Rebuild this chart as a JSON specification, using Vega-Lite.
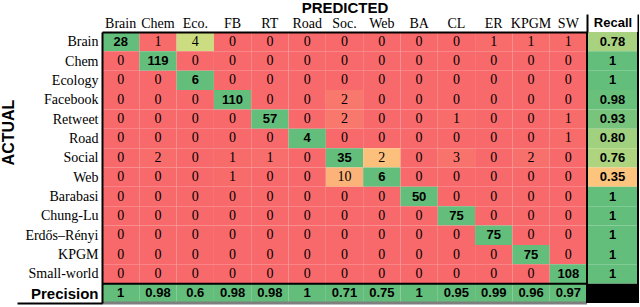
{
"$schema":"https://vega.github.io/schema/vega-lite/v6.json",
"background":"white",
"padding":0,
"autosize":{"type":"pad"},
"spacing":0,
"bounds":"flush",
"config":{"view":{"stroke":null},"text":{"color":"black"}},
"datasets":{
"cells":[
{"a":"Brain","p":"Brain","v":28},{"a":"Brain","p":"Chem","v":1},{"a":"Brain","p":"Eco.","v":4},{"a":"Brain","p":"FB","v":0},{"a":"Brain","p":"RT","v":0},{"a":"Brain","p":"Road","v":0},{"a":"Brain","p":"Soc.","v":0},{"a":"Brain","p":"Web","v":0},{"a":"Brain","p":"BA","v":0},{"a":"Brain","p":"CL","v":0},{"a":"Brain","p":"ER","v":1},{"a":"Brain","p":"KPGM","v":1},{"a":"Brain","p":"SW","v":1},
{"a":"Chem","p":"Brain","v":0},{"a":"Chem","p":"Chem","v":119},{"a":"Chem","p":"Eco.","v":0},{"a":"Chem","p":"FB","v":0},{"a":"Chem","p":"RT","v":0},{"a":"Chem","p":"Road","v":0},{"a":"Chem","p":"Soc.","v":0},{"a":"Chem","p":"Web","v":0},{"a":"Chem","p":"BA","v":0},{"a":"Chem","p":"CL","v":0},{"a":"Chem","p":"ER","v":0},{"a":"Chem","p":"KPGM","v":0},{"a":"Chem","p":"SW","v":0},
{"a":"Ecology","p":"Brain","v":0},{"a":"Ecology","p":"Chem","v":0},{"a":"Ecology","p":"Eco.","v":6},{"a":"Ecology","p":"FB","v":0},{"a":"Ecology","p":"RT","v":0},{"a":"Ecology","p":"Road","v":0},{"a":"Ecology","p":"Soc.","v":0},{"a":"Ecology","p":"Web","v":0},{"a":"Ecology","p":"BA","v":0},{"a":"Ecology","p":"CL","v":0},{"a":"Ecology","p":"ER","v":0},{"a":"Ecology","p":"KPGM","v":0},{"a":"Ecology","p":"SW","v":0},
{"a":"Facebook","p":"Brain","v":0},{"a":"Facebook","p":"Chem","v":0},{"a":"Facebook","p":"Eco.","v":0},{"a":"Facebook","p":"FB","v":110},{"a":"Facebook","p":"RT","v":0},{"a":"Facebook","p":"Road","v":0},{"a":"Facebook","p":"Soc.","v":2},{"a":"Facebook","p":"Web","v":0},{"a":"Facebook","p":"BA","v":0},{"a":"Facebook","p":"CL","v":0},{"a":"Facebook","p":"ER","v":0},{"a":"Facebook","p":"KPGM","v":0},{"a":"Facebook","p":"SW","v":0},
{"a":"Retweet","p":"Brain","v":0},{"a":"Retweet","p":"Chem","v":0},{"a":"Retweet","p":"Eco.","v":0},{"a":"Retweet","p":"FB","v":0},{"a":"Retweet","p":"RT","v":57},{"a":"Retweet","p":"Road","v":0},{"a":"Retweet","p":"Soc.","v":2},{"a":"Retweet","p":"Web","v":0},{"a":"Retweet","p":"BA","v":0},{"a":"Retweet","p":"CL","v":1},{"a":"Retweet","p":"ER","v":0},{"a":"Retweet","p":"KPGM","v":0},{"a":"Retweet","p":"SW","v":1},
{"a":"Road","p":"Brain","v":0},{"a":"Road","p":"Chem","v":0},{"a":"Road","p":"Eco.","v":0},{"a":"Road","p":"FB","v":0},{"a":"Road","p":"RT","v":0},{"a":"Road","p":"Road","v":4},{"a":"Road","p":"Soc.","v":0},{"a":"Road","p":"Web","v":0},{"a":"Road","p":"BA","v":0},{"a":"Road","p":"CL","v":0},{"a":"Road","p":"ER","v":0},{"a":"Road","p":"KPGM","v":0},{"a":"Road","p":"SW","v":1},
{"a":"Social","p":"Brain","v":0},{"a":"Social","p":"Chem","v":2},{"a":"Social","p":"Eco.","v":0},{"a":"Social","p":"FB","v":1},{"a":"Social","p":"RT","v":1},{"a":"Social","p":"Road","v":0},{"a":"Social","p":"Soc.","v":35},{"a":"Social","p":"Web","v":2},{"a":"Social","p":"BA","v":0},{"a":"Social","p":"CL","v":3},{"a":"Social","p":"ER","v":0},{"a":"Social","p":"KPGM","v":2},{"a":"Social","p":"SW","v":0},
{"a":"Web","p":"Brain","v":0},{"a":"Web","p":"Chem","v":0},{"a":"Web","p":"Eco.","v":0},{"a":"Web","p":"FB","v":1},{"a":"Web","p":"RT","v":0},{"a":"Web","p":"Road","v":0},{"a":"Web","p":"Soc.","v":10},{"a":"Web","p":"Web","v":6},{"a":"Web","p":"BA","v":0},{"a":"Web","p":"CL","v":0},{"a":"Web","p":"ER","v":0},{"a":"Web","p":"KPGM","v":0},{"a":"Web","p":"SW","v":0},
{"a":"Barabasi","p":"Brain","v":0},{"a":"Barabasi","p":"Chem","v":0},{"a":"Barabasi","p":"Eco.","v":0},{"a":"Barabasi","p":"FB","v":0},{"a":"Barabasi","p":"RT","v":0},{"a":"Barabasi","p":"Road","v":0},{"a":"Barabasi","p":"Soc.","v":0},{"a":"Barabasi","p":"Web","v":0},{"a":"Barabasi","p":"BA","v":50},{"a":"Barabasi","p":"CL","v":0},{"a":"Barabasi","p":"ER","v":0},{"a":"Barabasi","p":"KPGM","v":0},{"a":"Barabasi","p":"SW","v":0},
{"a":"Chung-Lu","p":"Brain","v":0},{"a":"Chung-Lu","p":"Chem","v":0},{"a":"Chung-Lu","p":"Eco.","v":0},{"a":"Chung-Lu","p":"FB","v":0},{"a":"Chung-Lu","p":"RT","v":0},{"a":"Chung-Lu","p":"Road","v":0},{"a":"Chung-Lu","p":"Soc.","v":0},{"a":"Chung-Lu","p":"Web","v":0},{"a":"Chung-Lu","p":"BA","v":0},{"a":"Chung-Lu","p":"CL","v":75},{"a":"Chung-Lu","p":"ER","v":0},{"a":"Chung-Lu","p":"KPGM","v":0},{"a":"Chung-Lu","p":"SW","v":0},
{"a":"Erdős–Rényi","p":"Brain","v":0},{"a":"Erdős–Rényi","p":"Chem","v":0},{"a":"Erdős–Rényi","p":"Eco.","v":0},{"a":"Erdős–Rényi","p":"FB","v":0},{"a":"Erdős–Rényi","p":"RT","v":0},{"a":"Erdős–Rényi","p":"Road","v":0},{"a":"Erdős–Rényi","p":"Soc.","v":0},{"a":"Erdős–Rényi","p":"Web","v":0},{"a":"Erdős–Rényi","p":"BA","v":0},{"a":"Erdős–Rényi","p":"CL","v":0},{"a":"Erdős–Rényi","p":"ER","v":75},{"a":"Erdős–Rényi","p":"KPGM","v":0},{"a":"Erdős–Rényi","p":"SW","v":0},
{"a":"KPGM","p":"Brain","v":0},{"a":"KPGM","p":"Chem","v":0},{"a":"KPGM","p":"Eco.","v":0},{"a":"KPGM","p":"FB","v":0},{"a":"KPGM","p":"RT","v":0},{"a":"KPGM","p":"Road","v":0},{"a":"KPGM","p":"Soc.","v":0},{"a":"KPGM","p":"Web","v":0},{"a":"KPGM","p":"BA","v":0},{"a":"KPGM","p":"CL","v":0},{"a":"KPGM","p":"ER","v":0},{"a":"KPGM","p":"KPGM","v":75},{"a":"KPGM","p":"SW","v":0},
{"a":"Small-world","p":"Brain","v":0},{"a":"Small-world","p":"Chem","v":0},{"a":"Small-world","p":"Eco.","v":0},{"a":"Small-world","p":"FB","v":0},{"a":"Small-world","p":"RT","v":0},{"a":"Small-world","p":"Road","v":0},{"a":"Small-world","p":"Soc.","v":0},{"a":"Small-world","p":"Web","v":0},{"a":"Small-world","p":"BA","v":0},{"a":"Small-world","p":"CL","v":0},{"a":"Small-world","p":"ER","v":0},{"a":"Small-world","p":"KPGM","v":0},{"a":"Small-world","p":"SW","v":108}
],
"recall":[
{"a":"Brain","r":0.78,"t":"0.78"},{"a":"Chem","r":1,"t":"1"},{"a":"Ecology","r":1,"t":"1"},{"a":"Facebook","r":0.98,"t":"0.98"},{"a":"Retweet","r":0.93,"t":"0.93"},{"a":"Road","r":0.8,"t":"0.80"},{"a":"Social","r":0.76,"t":"0.76"},{"a":"Web","r":0.35,"t":"0.35"},{"a":"Barabasi","r":1,"t":"1"},{"a":"Chung-Lu","r":1,"t":"1"},{"a":"Erdős–Rényi","r":1,"t":"1"},{"a":"KPGM","r":1,"t":"1"},{"a":"Small-world","r":1,"t":"1"}
],
"prec":[
{"p":"Brain","t":"1"},{"p":"Chem","t":"0.98"},{"p":"Eco.","t":"0.6"},{"p":"FB","t":"0.98"},{"p":"RT","t":"0.98"},{"p":"Road","t":"1"},{"p":"Soc.","t":"0.71"},{"p":"Web","t":"0.75"},{"p":"BA","t":"1"},{"p":"CL","t":"0.95"},{"p":"ER","t":"0.99"},{"p":"KPGM","t":"0.96"},{"p":"SW","t":"0.97"}
]
},
"resolve":{"scale":{"x":"independent","y":"independent","color":"independent"}},
"hconcat":[
{
"width":485,"height":271,
"layer":[
{
"encoding":{
"x":{"field":"p","type":"nominal","sort":null,"scale":{"domain":["Brain","Chem","Eco.","FB","RT","Road","Soc.","Web","BA","CL","ER","KPGM","SW"],"paddingInner":0,"paddingOuter":0},
"axis":{"orient":"top","title":"PREDICTED","titleFont":"Liberation Sans","titleFontSize":15,"titleFontWeight":"bold","titleColor":"black","titlePadding":1,"labelFont":"Liberation Serif","labelFontSize":14,"labelColor":"black","labelPadding":2,"labelAngle":0,"ticks":false,"domain":true,"domainColor":"black","domainWidth":2}},
"y":{"field":"a","type":"nominal","sort":null,"scale":{"domain":["Brain","Chem","Ecology","Facebook","Retweet","Road","Social","Web","Barabasi","Chung-Lu","Erdős–Rényi","KPGM","Small-world","Precision"],"paddingInner":0,"paddingOuter":0},
"axis":{"title":"ACTUAL","titleFont":"Liberation Sans","titleFontSize":16,"titleFontWeight":"bold","titleColor":"black","titlePadding":2,"titleY":100,
"labelFont":{"condition":{"test":"datum.value==='Precision'","value":"Liberation Sans"},"value":"Liberation Serif"},
"labelFontWeight":{"condition":{"test":"datum.value==='Precision'","value":"bold"},"value":"normal"},
"labelFontSize":{"condition":{"test":"datum.value==='Precision'","value":15},"value":14},
"labelExpr":"datum.value==='Precision' ? 'Precision\u00a0\u00a0\u00a0\u00a0' : datum.label",
"labelColor":"black","labelPadding":-81,
"ticks":true,"tickBand":"extent","tickSize":85,"tickWidth":2,
"tickColor":{"condition":{"test":"datum.value==='Precision'","value":"black"},"value":"transparent"},
"domain":true,"domainColor":"black","domainWidth":2,"minExtent":84,"maxExtent":84}}
},
"layer":[
{"data":{"name":"cells"},
"transform":[{"joinaggregate":[{"op":"max","field":"v","as":"mx"}],"groupby":["p"]},{"calculate":"datum.v/datum.mx","as":"ratio"}],
"layer":[
{"mark":{"type":"rect"},"encoding":{"color":{"field":"ratio","type":"quantitative","scale":{"type":"linear","domain":[0,0.5,1],"range":["#F8696B","#FFEB84","#63BE7B"],"interpolate":"rgb"},"legend":null}}},
{"transform":[{"filter":"datum.ratio<1"}],"mark":{"type":"text","font":"Liberation Serif","fontSize":14},"encoding":{"text":{"field":"v","type":"nominal"}}},
{"transform":[{"filter":"datum.ratio>=1"}],"mark":{"type":"text","font":"Liberation Sans","fontSize":13,"fontWeight":"bold"},"encoding":{"text":{"field":"v","type":"nominal"}}}
]},
{"data":{"name":"prec"},
"encoding":{"y":{"datum":"Precision","type":"nominal"}},
"layer":[
{"mark":{"type":"rect","color":"#63BE7B"}},
{"mark":{"type":"text","font":"Liberation Sans","fontSize":13,"fontWeight":"bold"},"encoding":{"text":{"field":"t","type":"nominal"}}}
]}
]
},
{"data":{"values":[{}]},"mark":{"type":"rule","color":"black","strokeWidth":2},"encoding":{"y":{"datum":"Precision","type":"nominal","bandPosition":0}}},
{"data":{"values":[{}]},"mark":{"type":"rule","color":"#7f7f7f","strokeWidth":3},"encoding":{"y":{"datum":"Precision","type":"nominal","bandPosition":1}}}
]
},
{
"width":51,"height":271,
"layer":[
{"data":{"name":"recall"},
"encoding":{
"x":{"datum":"Recall","type":"nominal","scale":{"domain":["Recall"],"paddingInner":0,"paddingOuter":0},
"axis":{"orient":"top","title":null,"labelFont":"Liberation Sans","labelFontSize":13,"labelFontWeight":"bold","labelColor":"black","labelPadding":-15,"labelAngle":0,"ticks":true,"tickBand":"extent","tickSize":18,"tickWidth":2,"tickColor":"black","domain":false}},
"y":{"field":"a","type":"nominal","sort":null,"scale":{"domain":["Brain","Chem","Ecology","Facebook","Retweet","Road","Social","Web","Barabasi","Chung-Lu","Erdős–Rényi","KPGM","Small-world","Precision"],"paddingInner":0,"paddingOuter":0},"axis":null}
},
"layer":[
{"mark":{"type":"rect"},"encoding":{"color":{"field":"r","type":"quantitative","scale":{"type":"linear","domain":[0,0.5,1],"range":["#F8696B","#FFEB84","#63BE7B"],"interpolate":"rgb"},"legend":null}}},
{"mark":{"type":"text","font":"Liberation Sans","fontSize":13,"fontWeight":"bold"},"encoding":{"text":{"field":"t","type":"nominal"}}}
]},
{"data":{"values":[{}]},"mark":{"type":"rect","color":"black"},"encoding":{"x":{"datum":"Recall","type":"nominal"},"y":{"datum":"Precision","type":"nominal","axis":null}}},
{"data":{"values":[{}]},"mark":{"type":"rule","color":"black","strokeWidth":2},"encoding":{"x":{"datum":"Recall","type":"nominal","bandPosition":0}}},
{"data":{"values":[{}]},"mark":{"type":"rule","color":"black","strokeWidth":2},"encoding":{"x":{"datum":"Recall","type":"nominal","bandPosition":1}}}
]
}
]
}
